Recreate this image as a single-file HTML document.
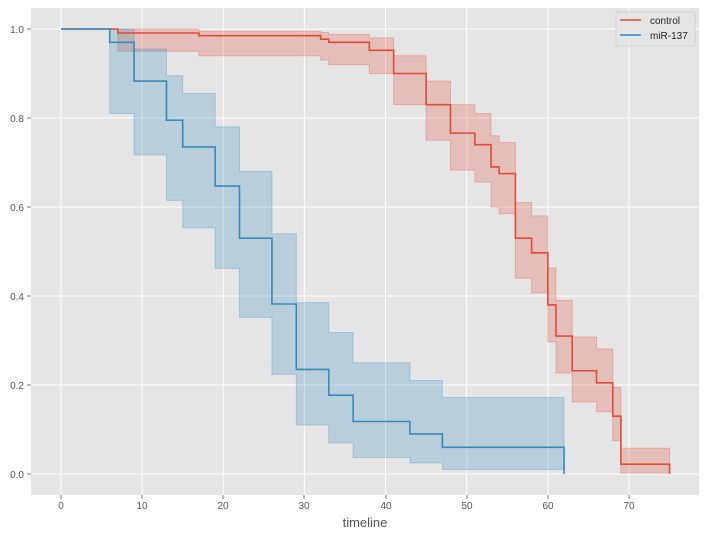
<!DOCTYPE html>
<html><head><meta charset="utf-8"><style>
body{margin:0;background:#fff;}
svg{display:block;font-family:"Liberation Sans",sans-serif;}
</style></head><body>
<svg id="s" width="707" height="537" viewBox="0 0 707 537">
<rect x="31" y="8" width="668" height="487" fill="#e5e5e5"/>
<g id="grid" stroke="#fff" stroke-width="1"></g>
<g id="data"></g>
<g font-size="10" fill="#555" text-anchor="middle">
<text x="61" y="489" dy="0" transform="translate(0,0)"></text>
</g>
<g font-size="10" fill="#555" text-anchor="middle">
<text x="61" y="509">0</text><text x="142" y="509">10</text><text x="223" y="509">20</text><text x="304" y="509">30</text><text x="386" y="509">40</text><text x="467" y="509">50</text><text x="548" y="509">60</text><text x="629" y="509">70</text>
</g>
<g font-size="10" fill="#555" text-anchor="end">
<text x="24" y="33">1.0</text><text x="24" y="122">0.8</text><text x="24" y="211">0.6</text><text x="24" y="300">0.4</text><text x="24" y="389">0.2</text><text x="24" y="478">0.0</text>
</g>
<g stroke="#555" stroke-width="0.8">
<line x1="61" y1="495" x2="61" y2="499"/><line x1="142" y1="495" x2="142" y2="499"/><line x1="223" y1="495" x2="223" y2="499"/><line x1="304" y1="495" x2="304" y2="499"/><line x1="386" y1="495" x2="386" y2="499"/><line x1="467" y1="495" x2="467" y2="499"/><line x1="548" y1="495" x2="548" y2="499"/><line x1="629" y1="495" x2="629" y2="499"/>
<line x1="27" y1="29" x2="31" y2="29"/><line x1="27" y1="118" x2="31" y2="118"/><line x1="27" y1="207" x2="31" y2="207"/><line x1="27" y1="296" x2="31" y2="296"/><line x1="27" y1="385" x2="31" y2="385"/><line x1="27" y1="474" x2="31" y2="474"/>
</g>
<text x="365" y="527" font-size="13" fill="#555" text-anchor="middle">timeline</text>
<rect x="616" y="12" width="79" height="34" rx="2" fill="#e5e5e5" stroke="#ccc" stroke-width="0.8" fill-opacity="0.8"/>
<line x1="620" y1="20" x2="641" y2="20" stroke="#E24A33" stroke-width="1.5"/>
<line x1="620" y1="35" x2="641" y2="35" stroke="#348ABD" stroke-width="1.5"/>
<text x="650" y="24" font-size="10" fill="#222">control</text>
<text x="650" y="39" font-size="10" fill="#222">miR-137</text>
</svg>
<script>
var X=t=>61+t*8.114, Y=v=>474-v*445;
var g=document.getElementById('grid'),d=document.getElementById('data'),h='';
[0,10,20,30,40,50,60,70].forEach(t=>h+=`<line x1="${X(t)}" y1="8" x2="${X(t)}" y2="495"/>`);
[0,.2,.4,.6,.8,1].forEach(v=>h+=`<line x1="31" y1="${Y(v)}" x2="699" y2="${Y(v)}"/>`);
g.innerHTML=h;
function band(segs,end,col){
  // segs: [t, lo, hi]
  var up='',lo='';
  for(var i=0;i<segs.length;i++){var t0=segs[i][0],t1=i+1<segs.length?segs[i+1][0]:end;
    up+=`L${X(t0)},${Y(segs[i][2])}L${X(t1)},${Y(segs[i][2])}`;}
  for(var i=segs.length-1;i>=0;i--){var t0=segs[i][0],t1=i+1<segs.length?segs[i+1][0]:end;
    lo+=`L${X(t1)},${Y(segs[i][1])}L${X(t0)},${Y(segs[i][1])}`;}
  return `<path d="M${up.slice(1)}${lo}Z" fill="${col}" fill-opacity="0.25" stroke="${col}" stroke-opacity="0.3" stroke-width="1"/>`;
}
function step(pts,end,col){
  var p=`M${X(0)},${Y(1)}`,v=1;
  pts.forEach(q=>{p+=`L${X(q[0])},${Y(v)}L${X(q[0])},${Y(q[1])}`;v=q[1];});
  p+=`L${X(end)},${Y(v)}L${X(end)},${Y(0)}`;
  return `<path d="${p}" fill="none" stroke="${col}" stroke-width="1.6"/>`;
}
var R='#E24A33',B='#348ABD';
var cb=[[7,.95,1],[17,.94,.995],[32,.93,.992],[33,.92,.988],[38,.90,.98],[41,.83,.94],[45,.75,.883],[48,.683,.83],[51,.656,.81],[53,.60,.76],[54,.585,.745],[56,.44,.61],[58,.407,.58],[60,.297,.463],[61,.227,.39],[63,.162,.308],[66,.14,.281],[68,.075,.195],[69,.002,.058]];
var bb=[[6,.81,1],[9,.717,.955],[13,.615,.895],[15,.553,.855],[19,.462,.78],[22,.352,.68],[26,.224,.54],[29,.11,.385],[33,.07,.318],[36,.037,.25],[43,.025,.21],[47,.01,.172]];
var cs=[[7,.991],[17,.985],[32,.977],[33,.97],[38,.952],[41,.90],[45,.83],[48,.766],[51,.74],[53,.69],[54,.675],[56,.53],[58,.497],[60,.38],[61,.31],[63,.232],[66,.205],[68,.13],[69,.022]];
var bs=[[6,.97],[9,.883],[13,.795],[15,.735],[19,.647],[22,.53],[26,.382],[29,.235],[33,.177],[36,.118],[43,.09],[47,.06]];
d.innerHTML=band(cb,75,R)+band(bb,62,B)+step(cs,75,R)+step(bs,62,B);
</script>
</body></html>
